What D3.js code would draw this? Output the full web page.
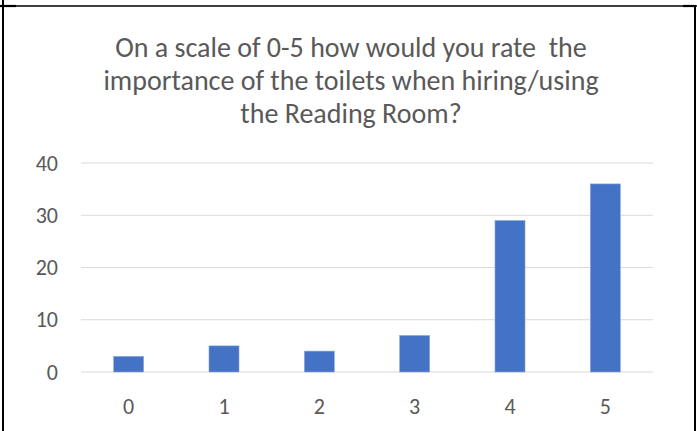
<!DOCTYPE html>
<html>
<head>
<meta charset="utf-8">
<script src="https://cdn.jsdelivr.net/npm/d3@7"></script>
<style>
  body { margin: 0; background: #fff; }
  svg text { font-family: Carlito, Lato, "Open Sans", sans-serif; fill: #595959; }
</style>
</head>
<body>
<svg id="chart" width="697" height="431"></svg>
<script>
// ratings 0-5 and how many people picked each one
const ratings = ["0", "1", "2", "3", "4", "5"];
const counts = [3, 5, 4, 7, 29, 36];
const yTicks = [0, 10, 20, 30, 40];
const titleLines = [
    "On a scale of 0-5 how would you rate  the",
    "importance of the toilets when hiring/using",
    "the Reading Room?"
];

const svg = d3.select("#chart");
const W = 697, H = 431;
const plot = { left: 81, right: 653, top: 163, bottom: 372 };

// page borders around the chart (table cell edges)
svg.append("line").attr("x1", 0).attr("x2", W).attr("y1", 6).attr("y2", 6)
    .attr("stroke", "#000").attr("stroke-width", 1.3);
svg.append("line").attr("x1", 0).attr("x2", 16).attr("y1", 6).attr("y2", 6)
    .attr("stroke", "#000").attr("stroke-width", 2.2);
svg.append("line").attr("x1", 683).attr("x2", 695).attr("y1", 6).attr("y2", 6)
    .attr("stroke", "#000").attr("stroke-width", 2.2);
svg.append("line").attr("x1", 3).attr("x2", 3).attr("y1", 0).attr("y2", H)
    .attr("stroke", "#000").attr("stroke-width", 2);
svg.append("line").attr("x1", 695).attr("x2", 695).attr("y1", 5).attr("y2", H)
    .attr("stroke", "#000").attr("stroke-width", 2);

var x = d3.scaleBand()
    .domain(ratings)
    .range([plot.left, plot.right])
    .paddingInner(0.685)
    .paddingOuter(0.3425);

var y = d3.scaleLinear()
    .domain([0, 40])
    .range([plot.bottom, plot.top]);

// gridlines
svg.append("g")
    .selectAll("line")
    .data(yTicks)
    .enter()
    .append("line")
    .attr("x1", plot.left)
    .attr("x2", plot.right)
    .attr("y1", d => y(d))
    .attr("y2", d => y(d))
    .attr("stroke", "#d9d9d9")
    .attr("stroke-width", 1.2);

// y axis labels
svg.append("g")
    .selectAll("text")
    .data(yTicks)
    .enter()
    .append("text")
    .attr("x", 58)
    .attr("y", d => y(d))
    .attr("dy", "0.35em")
    .attr("text-anchor", "end")
    .style("font-size", "22px")
    .text(d => d);

// bars
svg.append("g")
    .selectAll("rect")
    .data(counts)
    .enter()
    .append("rect")
    .attr("x", (d, i) => x(ratings[i]))
    .attr("width", x.bandwidth())
    .attr("y", d => y(d))
    .attr("height", d => y(0) - y(d))
    .attr("fill", "#4472c4")
    .attr("stroke", "#8fa9dc")
    .attr("stroke-width", 0.6);

// x axis labels
svg.append("g")
    .selectAll("text")
    .data(ratings)
    .enter()
    .append("text")
    .attr("x", d => x(d) + x.bandwidth() / 2)
    .attr("y", 406)
    .attr("dy", "0.35em")
    .attr("text-anchor", "middle")
    .style("font-size", "22px")
    .text(d => d);

// title
svg.append("g")
    .selectAll("text")
    .data(titleLines)
    .enter()
    .append("text")
    .attr("x", 351)
    .attr("y", (d, i) => 47 + i * 33)
    .attr("dy", "0.35em")
    .attr("text-anchor", "middle")
    .style("font-size", "28px")
    .style("white-space", "pre")
    .attr("xml:space", "preserve")
    .text(d => d);
</script>
</body>
</html>
